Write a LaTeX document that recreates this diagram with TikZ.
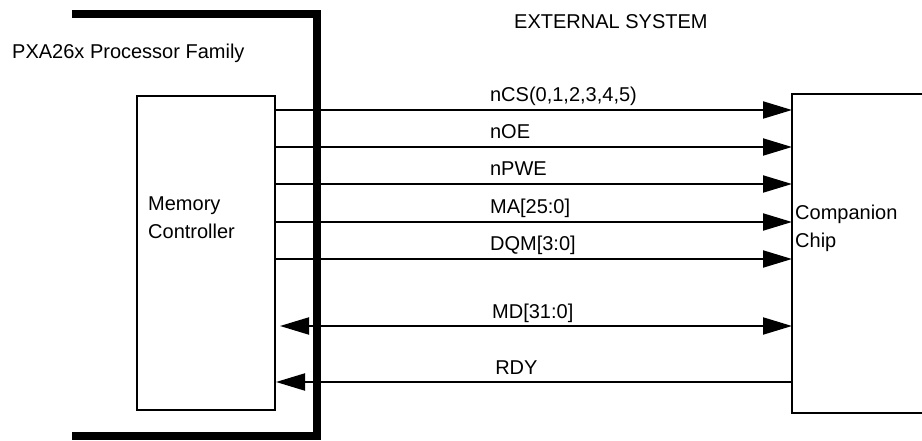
\documentclass[tikz,border=0pt]{standalone}
\usepackage{fontspec}
\setmainfont{Liberation Sans}
\usetikzlibrary{arrows.meta,positioning}

\tikzset{
  bigtri/.tip={Triangle[length=29pt,width=17pt]},
  wire/.style={line width=2pt},
  sig/.style={wire, -bigtri},
  lbl/.style={anchor=base west, inner sep=0pt, yshift=8pt},
  blk/.style={draw, line width=2pt, inner sep=0pt},
}

\begin{document}
\begin{tikzpicture}[x=1pt, y=-1pt, font=\fontsize{20}{28}\selectfont]
  \useasboundingbox (0,0) rectangle (922,441);

  % processor boundary
  \draw[line width=8pt] (72,14) -- (316.5,14) -- (316.5,436) -- (72,436);
  \node[anchor=base west, inner sep=0pt] (pxa) at (12,59) {PXA26x Processor Family};
  \node[anchor=base west, inner sep=0pt] (ext) at (514,29) {EXTERNAL SYSTEM};

  % blocks
  \node[blk, minimum width=138pt, minimum height=314pt, anchor=north west] (mc) at (136,95) {};
  \node[anchor=north west, align=left, inner sep=0pt] (mctext) at (148,197) {Memory\\Controller};
  \node[minimum width=130pt, minimum height=319pt, anchor=north west, inner sep=0pt] (chip) at (792,94) {};
  \draw[wire] (chip.north east) -- (chip.north west) -- (chip.south west) -- (chip.south east);
  \node[anchor=north west, align=left, inner sep=0pt] (chiptext) at (795,205) {Companion\\Chip};

  % signals
  \draw[sig] (mc.east |- 0,110) -- node[lbl, pos=0.413] {nCS(0,1,2,3,4,5)} (chip.west |- 0,110);
  \draw[sig] (mc.east |- 0,147) -- node[lbl, pos=0.413] {nOE} (chip.west |- 0,147);
  \draw[sig] (mc.east |- 0,184) -- node[lbl, pos=0.413] {nPWE} (chip.west |- 0,184);
  \draw[sig] (mc.east |- 0,222) -- node[lbl, pos=0.413] {MA[25:0]} (chip.west |- 0,222);
  \draw[sig] (mc.east |- 0,259) -- node[lbl, pos=0.413] {DQM[3:0]} (chip.west |- 0,259);
  \draw[wire, bigtri-bigtri, shorten <=4pt] (mc.east |- 0,326) -- node[lbl, pos=0.417] {MD[31:0]} (chip.west |- 0,326);
  \draw[sig] (chip.west |- 0,382) -- node[lbl, pos=0.577] {RDY} (mc.east |- 0,382);
\end{tikzpicture}
\end{document}
